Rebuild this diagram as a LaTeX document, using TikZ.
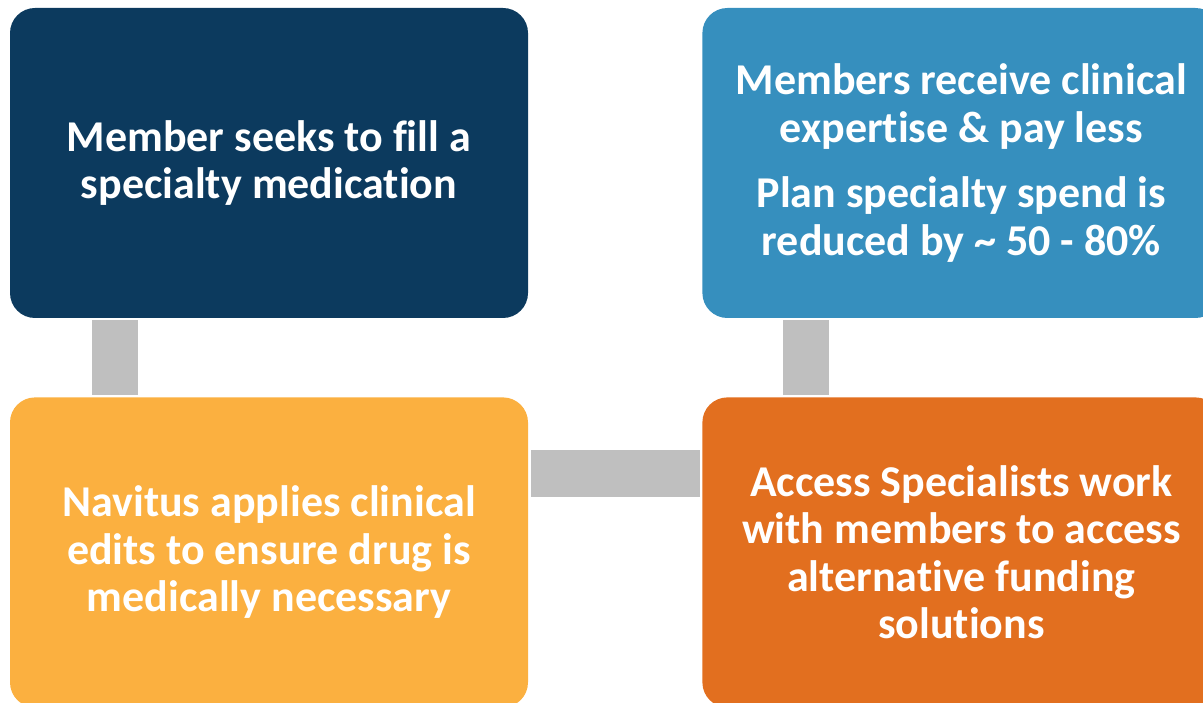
\documentclass[tikz,border=0pt]{standalone}
\usepackage{fontspec}
\setmainfont[Ligatures={NoCommon}]{Carlito}
\usetikzlibrary{positioning,calc}
\definecolor{navyblue}{RGB}{12, 58, 94}
\definecolor{midblue}{RGB}{54, 143, 190}
\definecolor{sunyellow}{RGB}{251, 176, 64}
\definecolor{burntorange}{RGB}{226, 111, 31}
\definecolor{linkgray}{RGB}{191, 191, 191}

\begin{document}
\begin{tikzpicture}[x=1pt, y=-1pt, node distance=79pt and 174pt,
		infobox/.style={draw=none, rounded corners=25pt, minimum width=518pt, minimum height=310pt, inner sep=0pt, align=center, text=white, font=\bfseries\fontsize{44}{47.5}\selectfont},
		linkLine/.style={line width=46pt, -, color=linkgray}
		]
	
		\path[use as bounding box, clip] (0,0) rectangle (1203,703);
		
		\node [infobox, fill=navyblue] (member) at (269,163) {Member seeks to fill a\\specialty medication};
		\node [infobox, fill=sunyellow, below=of member] (navitus) {Navitus applies clinical\\edits to ensure drug is\\medically necessary};
		\node [infobox, fill=midblue, right=of member] (result) {Members receive clinical\\expertise \& pay less\\[18pt]Plan specialty spend is\\reduced by \textasciitilde{} 50 - 80\%};
		\node [infobox, fill=burntorange, below=of result] (access) {Access Specialists work\\with members to access\\alternative funding\\solutions};
		
		% connectors
		\draw [linkLine, shorten <=2pt, shorten >=2pt] ([xshift=105pt]member.south west) -- ([xshift=105pt]navitus.north west);
		\draw [linkLine, line width=47pt, shorten <=3pt, shorten >=2pt] ([yshift=-76pt]navitus.north east) -- ([yshift=-76pt]access.north west);
		\draw [linkLine, shorten <=2pt, shorten >=2pt] ([xshift=104pt]access.north west) -- ([xshift=104pt]result.south west);
		
		\end{tikzpicture}
\end{document}
